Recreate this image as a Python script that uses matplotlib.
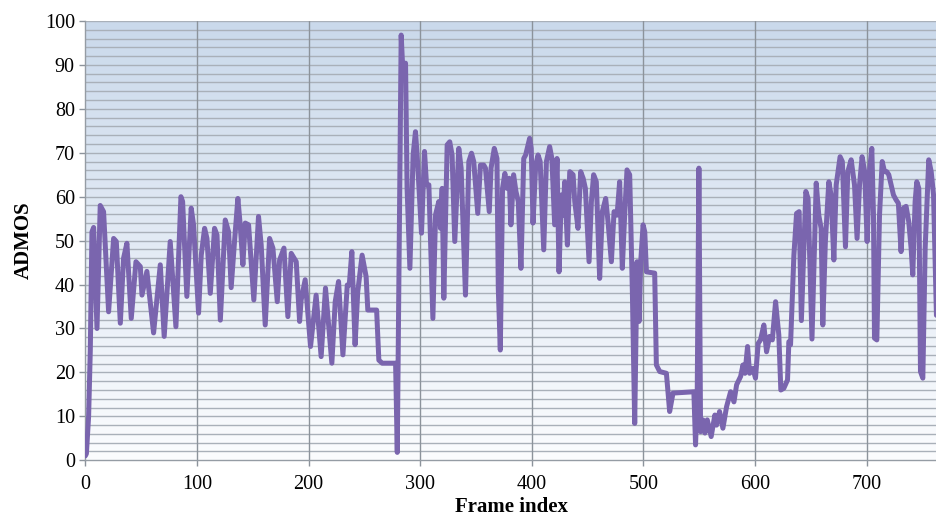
import numpy as np
import matplotlib
matplotlib.use("Agg")
import matplotlib.pyplot as plt
from matplotlib.colors import LinearSegmentedColormap

plt.rcParams['font.family'] = ['Liberation Serif', 'DejaVu Serif']

# ADMOS score per frame (sampled at turning points of the trace)
frame = [
    0, 1, 3, 4.5, 6, 7.5, 10.5, 13.4, 16.4, 20.9, 25.4, 27.8, 31.4, 34.3, 37.3,
    41.2, 45.4, 49.3, 50.8, 55.2, 61.2, 67.2, 70.7, 76.1, 81.2, 85.7, 87.2, 91,
    94.9, 97, 101.5, 103.9, 106.9, 109, 112, 115.8, 118, 121, 125.4, 128.4,
    130.7, 133.7, 136.7, 138.8, 141.2, 143.3, 146.3, 151, 155.2, 157.6, 161.2,
    165.1, 168.1, 172, 174.1, 178, 181.5, 184.5, 189, 192, 193.4, 197, 198.8,
    201.8, 206.8, 211.3, 215.2, 220.9, 223.9, 226.9, 230.8, 234.7, 236.5, 238.8,
    241.7, 244.1, 248, 251.6, 253.1, 261, 263, 266, 278, 279.5, 283, 284.8,
    286.9, 288.3, 290.8, 293.7, 295.8, 297.3, 301.2, 303.9, 305.7, 307.8, 311.4,
    313.8, 316.7, 318.2, 319.7, 321.2, 324.2, 326.5, 328.6, 331, 334.6, 336.7,
    340.6, 343.6, 346, 348, 351.6, 354, 357, 358.5, 361.9, 363.5, 366.4, 368.8,
    370, 371.8, 373.8, 375.9, 377.7, 379.8, 381.3, 383.7, 385.8, 387.9, 390.3,
    392.8, 394.5, 398.1, 399.5, 401.1, 403.5, 405.6, 407.5, 410.7, 413.1, 416,
    418, 420.5, 422.6, 424.4, 426.5, 428, 429.5, 431.9, 434, 437, 438.5, 441.4,
    443.8, 446, 448, 451.3, 453.4, 455.4, 457.8, 460.8, 463.2, 466.2, 468.3,
    471.3, 473.7, 476.4, 478.7, 481.1, 483.2, 485.3, 487.7, 490.1, 492.2, 494.3,
    496.1, 497.6, 499.7, 501.2, 502.7, 510.1, 511.6, 514.6, 520.6, 523.5, 526.5,
    545.2, 546.7, 548.2, 549.7, 551.2, 553.3, 555.1, 557.2, 560.7, 564, 565.5,
    568.2, 571.2, 574.5, 578.1, 581.1, 583.5, 587.1, 589.2, 591, 593.3, 595.1,
    598.1, 600.4, 602.8, 604.9, 607.9, 610.3, 613, 615.5, 618.4, 621.3, 623.1,
    625.8, 629.1, 630.3, 631.8, 634.8, 637.2, 639.5, 641.5, 645.5, 647.5, 651,
    654.8, 657.1, 659.2, 660.7, 663, 666.1, 668.1, 670.6, 672.7, 676.2, 678.2,
    681, 683.1, 686.1, 689.1, 691.4, 693.6, 695.9, 698.2, 700.4, 702.5, 704.6,
    706.1, 707, 709.1, 711.5, 713.9, 716, 718, 719.8, 721.9, 724, 726.3, 728.4,
    730.8, 732.9, 735.3, 737.7, 739.8, 741.3, 743.4, 744.9, 746.7, 748.2, 750.3,
    752.4, 755.6, 757.8, 759.9, 762.5,
]
admos = [
    1, 1.5, 10, 25, 52, 53, 30, 58, 56.6, 33.8, 50.5, 49.8, 31.2, 46, 49.4,
    32.3, 45.2, 44.1, 37.6, 43, 29, 44.5, 28.2, 49.8, 30.4, 60, 58.9, 37.3,
    57.4, 53.6, 33.5, 46.7, 52.8, 50.5, 38, 52.8, 51.3, 31.9, 54.7, 52,
    39.3, 49.8, 59.6, 53.6, 44.5, 54, 53.6, 36.5, 55.5, 49, 30.8,
    50.5, 48.3, 36.1, 45.6, 48.3, 32.7, 47.1, 45.2, 31.6, 36.5, 41.1, 35.4,
    25.9, 37.6, 23.6, 39.2, 22.1, 36.1, 40.7, 24, 39.9, 39.9, 47.5,
    26.3, 38.4, 46.7, 41.8, 34.2, 34.2, 22.8, 22.1, 22.1, 1.8, 96.8, 87,
    90.4, 61.9, 43.7, 69.5, 74.8, 69.5, 51.7, 70.3, 62.7, 62.7, 32.3,
    55.9, 58.9, 52.8, 61.9, 36.9, 71.8, 72.5, 69.5, 49.8, 71, 66.5,
    37.6, 68, 69.9, 68, 56.2, 67.2, 67.2, 66.5, 56.6, 66.5, 71, 68.7,
    39.1, 25.1, 61.9, 65.3, 61.9, 64.2, 53.6, 65, 61.2, 58.9, 43.7,
    68.7, 69.5, 73.3, 71, 54, 67.2, 69.5, 68, 47.9, 68, 71.4,
    68.7, 53.6, 68.7, 42.9, 60.4, 55.8, 63.4, 49, 65.7, 65, 58.9, 52.8,
    65.7, 64.2, 61.9, 45.2, 58.9, 65, 63.4, 41.4, 56.6, 59.6, 54.3,
    45.2, 56.6, 55.8, 63.4, 43.7, 55.8, 66.1, 65, 38.4, 8.4, 45.2,
    31.6, 45.2, 53.6, 52, 42.9, 42.6, 21.7, 20.2, 19.8, 11.1, 15.3,
    15.6, 3.5, 15, 66.5, 6.5, 9.2, 6.2, 9.2, 5.4, 10.3, 8,
    11.1, 7.3, 12.2, 15.6, 13.3, 17.2, 19.1, 21.7, 19.8, 25.9, 19.8,
    20.9, 18.7, 26.6, 27.4, 30.8, 24.7, 28.2, 27.4, 36.1, 28.5, 16,
    16.4, 18.3, 27, 26.3, 46.7, 56.2, 56.6, 31.8, 61.2, 59.6, 27.6,
    63.1, 55.8, 52.8, 30.8, 49.8, 63.4, 60.4, 45.6, 62.7, 69.1, 68,
    48.6, 65.7, 68.4, 62.7, 50.5, 62.7, 69.1, 65.7, 49.8, 65.7, 71,
    55.8, 27.8, 27.4, 55.8, 68, 65.7, 65.7, 65, 62.7, 60.4, 59.3, 58.5,
    47.5, 57.4, 57.8, 54.3, 48.3, 42.2, 58.9, 63.4, 61.9, 20.2, 18.7,
    48.3, 68.4, 65.7, 60.4, 33,
]

x_ticks = [0, 100, 200, 300, 400, 500, 600, 700]
y_ticks = [0, 10, 20, 30, 40, 50, 60, 70, 80, 90, 100]
x_max = 763

fig = plt.figure(figsize=(9.37, 5.17), dpi=100)
ax = fig.add_axes([0.091, 0.1097, 0.909, 0.8497])

# vertical blue-to-white background gradient
grad = LinearSegmentedColormap.from_list("bg", ["#fbfcfe", "#cad9eb"])
ax.imshow(np.linspace(0, 1, 256).reshape(-1, 1), cmap=grad, origin="lower",
          extent=(0, x_max, 0, 100), aspect="auto", zorder=0)

# fine horizontal grid every 2 units, vertical grid every 100 frames
for yv in np.arange(2, 101, 2):
    ax.axhline(yv, color="#a9b0b9", lw=1.0, zorder=1)
for xv in x_ticks[1:]:
    ax.axvline(xv, color="#8c939b", lw=1.0, zorder=1)

ax.plot(frame, admos, color="#7a65ae", lw=3.6, solid_joinstyle="round",
        solid_capstyle="round", zorder=3)

ax.set_xlim(0, x_max)
ax.set_ylim(0, 100)
ax.set_xticks(x_ticks)
ax.set_yticks(y_ticks)
ax.tick_params(axis="both", labelsize=14.5, color="#8c939b", length=4.5,
               width=1.0, direction="out", pad=3)
ax.tick_params(axis="x", pad=6)

for side in ("top", "right"):
    ax.spines[side].set_visible(False)
for side in ("left", "bottom"):
    ax.spines[side].set_color("#959ca4")
    ax.spines[side].set_linewidth(1.0)

ax.set_xlabel("Frame index", fontsize=15, fontweight="bold", labelpad=2.5)
ax.set_ylabel("ADMOS", fontsize=15, fontweight="bold", labelpad=8)

fig.savefig("out.png", dpi=100)
